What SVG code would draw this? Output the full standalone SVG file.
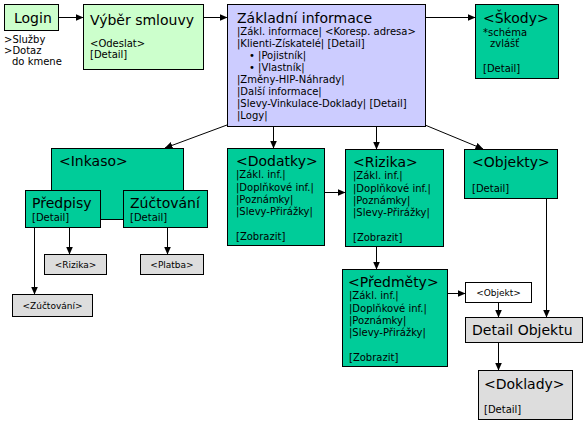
<svg xmlns="http://www.w3.org/2000/svg" width="586" height="425" viewBox="0 0 586 425">
<defs>
<marker id="ah" markerUnits="userSpaceOnUse" markerWidth="8" markerHeight="8" viewBox="0 0 8 8" refX="7.5" refY="4" orient="auto">
<path d="M0,0.5 L8,4 L0,7.5 Z" fill="#000"/>
</marker>
<style>
rect{stroke:#000;stroke-width:1}
.lg{fill:#ccffcc}.lv{fill:#ccccff}.tl{fill:#00cc99}.gr{fill:#dddddd}.wh{fill:#fff}
text{font-family:"DejaVu Sans",Verdana,sans-serif;fill:#000}
.t{font-size:14px}
.s{font-size:10px}
.x{font-size:9px}
.c{text-anchor:middle}
#connectors path{stroke:#000;stroke-width:1;fill:none;marker-end:url(#ah)}
</style>
</defs>
<rect x="0" y="0" width="586" height="425" fill="#fff" style="stroke:none"/>
<g id="connectors">
<path d="M58,17.5 H83"/>
<path d="M203,17.5 H227"/>
<path d="M425,17.5 H475"/>
<path d="M227,125 L165,148"/>
<path d="M273.5,126 V148"/>
<path d="M376.5,126 V149"/>
<path d="M425,125 L483,149"/>
<path d="M324,192.5 H345"/>
<path d="M376.5,246 V269"/>
<path d="M447,293.5 H465"/>
<path d="M498.5,302 V317"/>
<path d="M546.5,198 V317"/>
<path d="M498.5,342 V370"/>
<path d="M69.5,227 V254"/>
<path d="M34.5,227 V294"/>
<path d="M167.5,227 V254"/>
</g>
<g id="login">
<rect class="lg" x="4.5" y="4.5" width="54" height="26"/>
<text class="t" x="14" y="23">Login</text>
<text class="s" x="4" y="43">&gt;Služby</text>
<text class="s" x="4" y="54">&gt;Dotaz</text>
<text class="s" x="12" y="65">do kmene</text>
</g>
<g id="vyber">
<rect class="lg" x="83.5" y="4.5" width="120" height="65"/>
<text class="t" x="90" y="25">Výběr smlouvy</text>
<text class="s" x="90" y="47">&lt;Odeslat&gt;</text>
<text class="s" x="90" y="58">[Detail]</text>
</g>
<g id="zakladni">
<rect class="lv" x="227.5" y="4.5" width="198" height="122"/>
<text class="t" x="237" y="23">Základní informace</text>
<text class="s" x="237" y="35">|Zákl. informace| &lt;Koresp. adresa&gt;</text>
<text class="s" x="237" y="47">|Klienti-Získatelé| [Detail]</text>
<text class="s" x="249" y="59">• |Pojistník|</text>
<text class="s" x="249" y="71">• |Vlastník|</text>
<text class="s" x="237" y="83">|Změny-HIP-Náhrady|</text>
<text class="s" x="237" y="95">|Další informace|</text>
<text class="s" x="237" y="107">|Slevy-Vinkulace-Doklady| [Detail]</text>
<text class="s" x="237" y="119">|Logy|</text>
</g>
<g id="skody">
<rect class="tl" x="475.5" y="4.5" width="83" height="74"/>
<text class="t" x="483" y="23">&lt;Škody&gt;</text>
<text class="s" x="483" y="36">*schéma</text>
<text class="s" x="490" y="47">zvlášť</text>
<text class="s" x="483" y="72">[Detail]</text>
</g>
<g id="inkaso">
<rect class="tl" x="51.5" y="148.5" width="132" height="71"/>
<text class="t" x="59" y="166">&lt;Inkaso&gt;</text>
</g>
<g id="predpisy">
<rect class="tl" x="25.5" y="190.5" width="75" height="37"/>
<text class="t" x="32" y="208">Předpisy</text>
<text class="s" x="32" y="221">[Detail]</text>
</g>
<g id="zuctovani">
<rect class="tl" x="123.5" y="190.5" width="84" height="37"/>
<text class="t" x="130" y="208">Zúčtování</text>
<text class="s" x="130" y="221">[Detail]</text>
</g>
<g id="rizika-small">
<rect class="gr" x="44.5" y="254.5" width="62" height="20"/>
<text class="x c" x="75.5" y="268">&lt;Rizika&gt;</text>
</g>
<g id="platba">
<rect class="gr" x="140.5" y="254.5" width="63" height="20"/>
<text class="x c" x="172" y="268">&lt;Platba&gt;</text>
</g>
<g id="zuctovani-small">
<rect class="gr" x="12.5" y="294.5" width="80" height="22"/>
<text class="x c" x="52.5" y="309">&lt;Zúčtování&gt;</text>
</g>
<g id="dodatky">
<rect class="tl" x="227.5" y="148.5" width="97" height="97"/>
<text class="t" x="236" y="166">&lt;Dodatky&gt;</text>
<text class="s" x="236" y="178">|Zákl. inf.|</text>
<text class="s" x="236" y="191">|Doplňkové inf.|</text>
<text class="s" x="236" y="203">|Poznámky|</text>
<text class="s" x="236" y="215">|Slevy-Přirážky|</text>
<text class="s" x="236" y="240">[Zobrazit]</text>
</g>
<g id="rizika">
<rect class="tl" x="345.5" y="149.5" width="98" height="97"/>
<text class="t" x="353" y="167">&lt;Rizika&gt;</text>
<text class="s" x="353" y="179">|Zákl. inf.|</text>
<text class="s" x="353" y="192">|Doplňkové inf.|</text>
<text class="s" x="353" y="204">|Poznámky|</text>
<text class="s" x="353" y="216">|Slevy-Přirážky|</text>
<text class="s" x="353" y="241">[Zobrazit]</text>
</g>
<g id="objekty">
<rect class="tl" x="464.5" y="149.5" width="93" height="49"/>
<text class="t" x="472" y="167">&lt;Objekty&gt;</text>
<text class="s" x="472" y="192">[Detail]</text>
</g>
<g id="predmety">
<rect class="tl" x="342.5" y="269.5" width="105" height="97"/>
<text class="t" x="348" y="287">&lt;Předměty&gt;</text>
<text class="s" x="349" y="299">|Zákl. inf.|</text>
<text class="s" x="349" y="312">|Doplňkové inf.|</text>
<text class="s" x="349" y="324">|Poznámky|</text>
<text class="s" x="349" y="336">|Slevy-Přirážky|</text>
<text class="s" x="349" y="361">[Zobrazit]</text>
</g>
<g id="objekt">
<rect class="wh" x="465.5" y="282.5" width="66" height="20"/>
<text class="x c" x="498.5" y="296">&lt;Objekt&gt;</text>
</g>
<g id="detail-objektu">
<rect class="gr" x="465.5" y="317.5" width="117" height="25"/>
<text class="t" x="472" y="335">Detail Objektu</text>
</g>
<g id="doklady">
<rect class="gr" x="478.5" y="370.5" width="94" height="49"/>
<text class="t" x="484" y="389">&lt;Doklady&gt;</text>
<text class="s" x="484" y="413">[Detail]</text>
</g>
</svg>
